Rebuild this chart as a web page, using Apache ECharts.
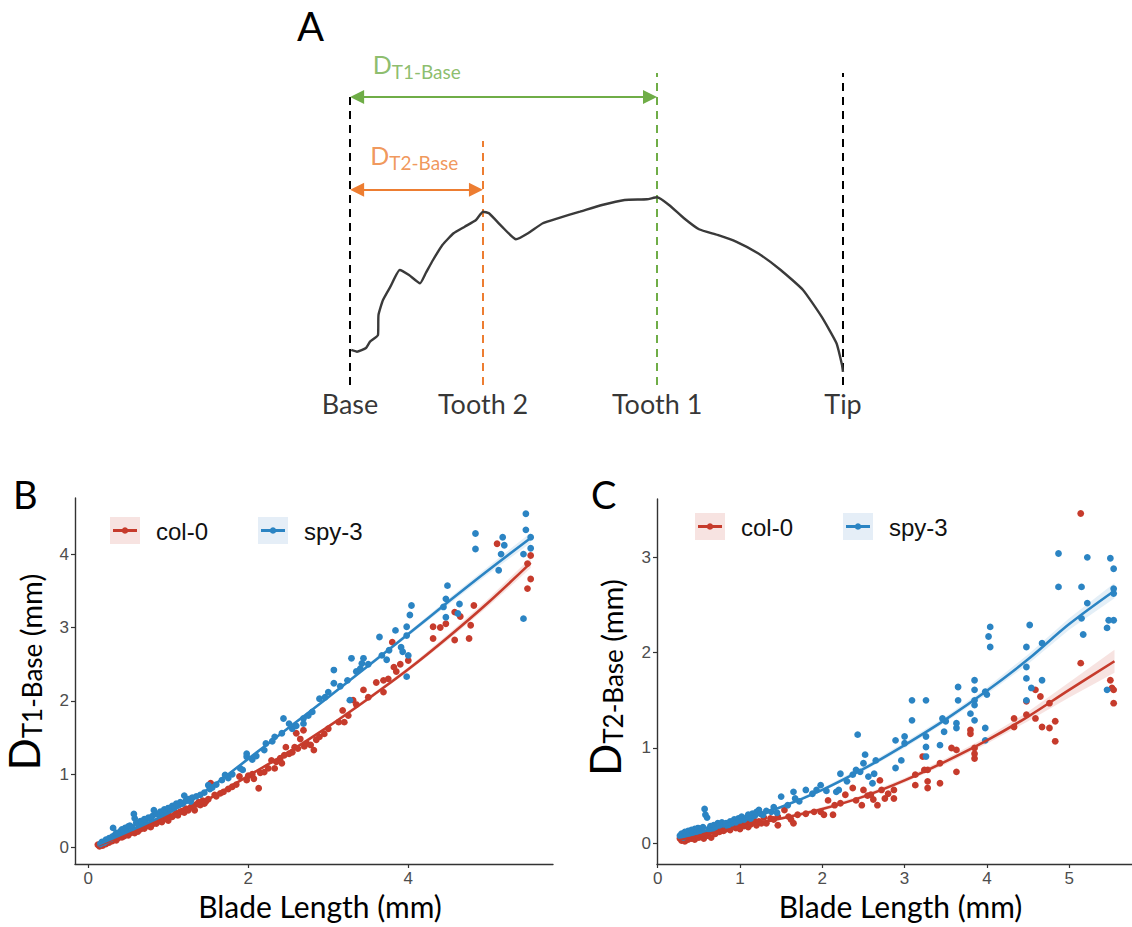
<!DOCTYPE html>
<html><head><meta charset="utf-8">
<script src="https://cdn.jsdelivr.net/npm/echarts@6/dist/echarts.min.js"></script>
<style>html,body{margin:0;padding:0;background:#fff}#c{width:1132px;height:927px}</style>
</head><body><div id="c"></div>
<script>
// ---------------- DATA ----------------
// Panel A: schematic leaf outline (x: % of blade from base to tip, y: height in same units)
const leafX = [0.26,1.42,3.25,4.06,5.68,5.78,6.69,8.19,10.08,11.97,14.20,15.35,16.84,18.74,21.01,23.27,25.56,26.98,28.19,30.83,33.67,36.11,39.11,42.13,46.65,51.12,55.70,60.24,62.3,64.71,67.75,70.79,74.54,78.30,82.76,87.36,91.89,95.66,98.68,99.8,100];
const leafY = [7.10,6.75,7.51,8.78,10.14,14.20,17.24,19.94,23.33,22.31,20.63,22.66,25.35,28.40,30.77,32.11,33.47,35.15,34.83,32.11,29.55,30.77,32.80,33.81,35.15,36.51,37.53,37.67,38.07,36.51,33.81,31.58,30.43,29.07,26.71,23.33,19.27,13.85,8.46,4.06,2.64];
const markNames = ['Base','Tooth 2','Tooth 1','Tip'];
const markX = [0, 27, 62.3, 100];
const markTop = [58.4, 49.5, 63.3, 63.3];
const arrowT1 = {from: 0, to: 62.3, level: 58.4, label: 'T1-Base', labelX: 4.5, labelY: 64.6};
const arrowT2 = {from: 0, to: 27, level: 39.6, label: 'T2-Base', labelX: 4.0, labelY: 46.2};

// Panel B: D_T1-Base vs blade length
const B_col0 = [[0.12,0.04],[0.14,0.02],[0.16,0.05],[0.18,0.03],[0.2,0.06],[0.22,0.05],[0.24,0.08],[0.26,0.07],[0.28,0.1],[0.3,0.09],[0.33,0.12],[0.35,0.1],[0.37,0.13],[0.4,0.15],[0.42,0.14],[0.45,0.16],[0.47,0.18],[0.5,0.17],[0.52,0.2],[0.55,0.21],[0.58,0.2],[0.6,0.24],[0.62,0.22],[0.65,0.25],[0.68,0.27],[0.7,0.26],[0.72,0.29],[0.75,0.3],[0.78,0.28],[0.8,0.32],[0.83,0.34],[0.85,0.33],[0.88,0.36],[0.9,0.38],[0.92,0.35],[0.95,0.39],[0.98,0.41],[1.0,0.37],[1.02,0.43],[1.05,0.42],[1.08,0.45],[1.1,0.47],[1.12,0.44],[1.15,0.49],[1.18,0.5],[1.2,0.48],[1.22,0.53],[1.25,0.51],[1.28,0.55],[1.29,0.67],[1.3,0.57],[1.33,0.51],[1.35,0.59],[1.38,0.62],[1.4,0.58],[1.43,0.64],[1.45,0.6],[1.47,0.63],[1.5,0.66],[1.53,0.88],[1.58,0.72],[1.6,0.7],[1.65,0.74],[1.69,0.76],[1.75,0.8],[1.8,0.83],[1.85,0.86],[1.89,0.97],[1.98,0.92],[2.0,0.98],[2.05,1.0],[2.07,0.94],[2.13,0.81],[2.15,1.02],[2.2,1.03],[2.25,1.08],[2.29,1.19],[2.33,1.08],[2.35,1.17],[2.4,1.22],[2.42,1.15],[2.45,1.26],[2.47,1.37],[2.51,1.28],[2.55,1.3],[2.58,1.37],[2.6,1.56],[2.62,1.35],[2.65,1.48],[2.69,1.6],[2.7,1.38],[2.73,1.42],[2.78,1.4],[2.82,1.33],[2.85,1.47],[2.89,1.51],[2.95,1.55],[3.0,1.62],[3.13,1.71],[3.18,1.87],[3.2,1.71],[3.25,1.8],[3.31,2.01],[3.35,1.95],[3.44,2.15],[3.5,2.05],[3.6,2.25],[3.69,2.28],[3.69,2.12],[3.75,2.3],[3.8,2.8],[3.82,2.46],[3.85,2.4],[3.9,2.5],[4.0,2.55],[4.31,2.85],[4.31,3.01],[4.4,3.0],[4.47,3.05],[4.58,2.83],[4.58,3.21],[4.65,3.15],[4.76,2.85],[4.78,3.03],[4.82,3.3],[5.11,4.14],[5.49,3.53],[5.53,3.66],[5.49,3.87],[5.53,3.98]];
const B_spy3 = [[0.15,0.05],[0.17,0.08],[0.2,0.07],[0.22,0.11],[0.24,0.1],[0.26,0.13],[0.28,0.12],[0.3,0.15],[0.31,0.27],[0.33,0.17],[0.35,0.2],[0.37,0.18],[0.4,0.22],[0.42,0.25],[0.44,0.23],[0.46,0.27],[0.48,0.26],[0.5,0.29],[0.52,0.3],[0.55,0.28],[0.57,0.46],[0.58,0.4],[0.6,0.34],[0.62,0.32],[0.65,0.36],[0.67,0.35],[0.7,0.39],[0.72,0.38],[0.75,0.41],[0.78,0.4],[0.8,0.43],[0.82,0.51],[0.85,0.46],[0.88,0.45],[0.9,0.49],[0.93,0.48],[0.95,0.52],[0.98,0.5],[1.0,0.54],[1.03,0.52],[1.05,0.57],[1.08,0.55],[1.1,0.6],[1.13,0.58],[1.15,0.62],[1.18,0.6],[1.2,0.71],[1.22,0.64],[1.25,0.66],[1.28,0.63],[1.3,0.68],[1.35,0.7],[1.4,0.72],[1.45,0.75],[1.5,0.85],[1.52,0.8],[1.55,0.82],[1.6,0.86],[1.67,0.92],[1.71,0.99],[1.75,0.95],[1.8,1.0],[1.9,1.08],[1.93,1.06],[1.98,1.24],[1.98,1.28],[2.05,1.2],[2.1,1.25],[2.2,1.33],[2.22,1.42],[2.3,1.45],[2.33,1.51],[2.42,1.56],[2.44,1.76],[2.51,1.69],[2.55,1.62],[2.6,1.66],[2.69,1.69],[2.69,1.76],[2.75,1.8],[2.8,1.85],[2.89,2.03],[2.96,2.05],[3.0,2.12],[3.07,2.24],[3.07,2.42],[3.15,2.2],[3.24,2.28],[3.27,2.01],[3.29,2.58],[3.35,2.4],[3.4,2.44],[3.42,2.51],[3.44,2.58],[3.5,2.5],[3.64,2.87],[3.67,2.62],[3.73,2.56],[3.76,2.69],[3.84,2.96],[3.91,2.73],[3.93,2.67],[3.98,3.01],[3.98,2.89],[4.0,2.62],[3.98,2.33],[4.02,3.17],[4.04,3.3],[4.44,3.28],[4.47,3.14],[4.47,3.39],[4.49,3.57],[4.62,3.19],[4.64,3.32],[4.84,4.07],[4.84,4.28],[5.13,3.78],[5.16,4.0],[5.2,4.12],[5.18,4.23],[5.44,3.12],[5.44,4.0],[5.53,4.08],[5.53,4.23],[5.47,4.33],[5.47,4.55]];
const B_fitX = [0.12,0.5,1,1.5,2,2.5,3,3.5,4,4.5,5,5.53];
const B_fitCol0 = [0.03,0.19,0.40,0.66,0.98,1.30,1.65,2.03,2.43,2.87,3.34,3.88];
const B_fitSpy3 = [0.04,0.22,0.47,0.80,1.21,1.63,2.05,2.48,2.91,3.35,3.78,4.22];
const B_seCol0 = [0.02,0.01,0.01,0.01,0.015,0.02,0.02,0.025,0.03,0.04,0.05,0.07];
const B_seSpy3 = [0.02,0.01,0.01,0.01,0.015,0.02,0.02,0.025,0.03,0.04,0.05,0.07];
const B_xTicks = [0,2,4];
const B_yTicks = [0,1,2,3,4];

// Panel C: D_T2-Base vs blade length
const C_col0 = [[0.27,0.05],[0.29,0.03],[0.31,0.06],[0.33,0.02],[0.35,0.07],[0.37,0.04],[0.39,0.08],[0.41,0.05],[0.43,0.09],[0.45,0.04],[0.47,0.08],[0.5,0.06],[0.52,0.1],[0.54,0.07],[0.56,0.05],[0.58,0.11],[0.6,0.08],[0.63,0.12],[0.65,0.06],[0.68,0.13],[0.7,0.1],[0.72,0.14],[0.75,0.12],[0.78,0.16],[0.8,0.13],[0.83,0.15],[0.85,0.18],[0.88,0.14],[0.9,0.17],[0.93,0.2],[0.95,0.16],[0.98,0.19],[1.0,0.15],[1.03,0.21],[1.05,0.18],[1.08,0.22],[1.1,0.17],[1.13,0.2],[1.17,0.24],[1.2,0.19],[1.23,0.23],[1.26,0.21],[1.29,0.27],[1.32,0.21],[1.37,0.26],[1.41,0.25],[1.46,0.28],[1.46,0.19],[1.54,0.35],[1.59,0.28],[1.62,0.25],[1.65,0.21],[1.7,0.3],[1.8,0.31],[1.9,0.33],[1.98,0.33],[2.02,0.3],[2.07,0.45],[2.13,0.3],[2.15,0.4],[2.22,0.42],[2.28,0.51],[2.37,0.58],[2.41,0.45],[2.48,0.4],[2.5,0.56],[2.55,0.5],[2.59,0.51],[2.62,0.46],[2.67,0.4],[2.7,0.66],[2.72,0.56],[2.76,0.47],[2.8,0.52],[2.87,0.47],[2.87,0.56],[3.13,0.61],[3.13,0.72],[3.22,0.91],[3.24,0.77],[3.28,0.58],[3.28,0.65],[3.28,0.77],[3.43,0.63],[3.43,0.84],[3.57,1.0],[3.63,0.98],[3.63,0.75],[3.8,1.19],[3.8,1.15],[3.85,0.89],[3.85,0.94],[3.85,1.0],[4.33,1.22],[4.33,1.31],[4.48,1.35],[4.48,1.49],[4.59,1.31],[4.59,1.61],[4.65,1.54],[4.67,1.22],[4.76,1.21],[4.76,1.47],[4.83,1.07],[4.83,1.28],[5.14,1.89],[5.14,3.46],[5.5,1.71],[5.52,1.63],[5.54,1.61],[5.54,1.47]];
const C_spy3 = [[0.27,0.08],[0.29,0.1],[0.31,0.06],[0.33,0.12],[0.35,0.09],[0.37,0.13],[0.39,0.1],[0.41,0.14],[0.43,0.11],[0.45,0.15],[0.47,0.12],[0.49,0.16],[0.51,0.13],[0.53,0.15],[0.55,0.17],[0.57,0.36],[0.58,0.3],[0.6,0.27],[0.62,0.15],[0.64,0.18],[0.66,0.14],[0.68,0.19],[0.7,0.17],[0.73,0.21],[0.75,0.19],[0.78,0.22],[0.8,0.2],[0.83,0.21],[0.85,0.18],[0.88,0.23],[0.9,0.21],[0.93,0.25],[0.95,0.22],[0.98,0.26],[1.0,0.24],[1.02,0.28],[1.05,0.25],[1.08,0.27],[1.1,0.3],[1.13,0.26],[1.15,0.31],[1.18,0.29],[1.2,0.33],[1.23,0.35],[1.25,0.31],[1.28,0.3],[1.32,0.34],[1.38,0.33],[1.41,0.38],[1.45,0.32],[1.5,0.49],[1.58,0.4],[1.65,0.54],[1.67,0.47],[1.72,0.44],[1.8,0.56],[1.88,0.52],[1.93,0.56],[1.98,0.61],[2.05,0.55],[2.17,0.54],[2.2,0.56],[2.22,0.73],[2.3,0.65],[2.37,0.72],[2.41,0.77],[2.43,1.14],[2.46,0.75],[2.5,0.84],[2.52,0.93],[2.56,0.7],[2.61,0.63],[2.63,0.73],[2.65,0.87],[2.89,0.79],[2.89,1.08],[2.96,0.87],[3.0,1.05],[3.0,1.12],[3.09,1.29],[3.09,1.5],[3.26,0.91],[3.26,1.01],[3.26,1.12],[3.26,1.5],[3.43,1.03],[3.46,1.31],[3.48,1.17],[3.5,1.28],[3.63,1.21],[3.63,1.26],[3.65,1.5],[3.65,1.64],[3.8,1.36],[3.85,1.29],[3.85,1.45],[3.85,1.5],[3.85,1.61],[3.85,1.71],[3.98,1.08],[3.98,1.21],[3.98,1.59],[4.0,1.56],[4.02,2.17],[4.04,2.06],[4.04,2.27],[4.48,1.5],[4.48,1.73],[4.48,1.85],[4.48,2.06],[4.52,2.29],[4.54,1.63],[4.67,1.71],[4.67,2.1],[4.87,2.69],[4.87,3.04],[5.15,2.36],[5.15,2.69],[5.17,2.19],[5.22,2.52],[5.22,3.0],[5.46,1.61],[5.46,2.26],[5.48,2.34],[5.5,2.99],[5.54,2.34],[5.54,2.62],[5.54,2.67],[5.54,2.88]];
const C_fitX = [0.27,0.5,1,1.5,2,2.5,3,3.5,4,4.5,5,5.55];
const C_fitCol0 = [0.04,0.08,0.17,0.26,0.36,0.49,0.66,0.86,1.08,1.33,1.61,1.91];
const C_fitSpy3 = [0.06,0.11,0.24,0.38,0.56,0.78,1.03,1.30,1.60,1.93,2.30,2.65];
const C_seCol0 = [0.03,0.02,0.015,0.015,0.02,0.02,0.025,0.03,0.035,0.05,0.08,0.12];
const C_seSpy3 = [0.03,0.02,0.015,0.015,0.02,0.025,0.03,0.03,0.035,0.05,0.06,0.08];
const C_xTicks = [0,1,2,3,4,5];
const C_yTicks = [0,1,2,3];

const groups = ['col-0','spy-3'];

// ---------------- STYLE ----------------
const RED = '#C63B2C', BLUE = '#2B84C3';
const RED_T = 'rgba(198,59,44,0.14)', BLUE_T = 'rgba(43,132,195,0.13)';
const LEG_RED = '#F7E3E1', LEG_BLUE = '#E5EEF7';
const GREEN = '#6FAD47', ORANGE = '#ED7D31';
const markColors = ['#000', ORANGE, GREEN, '#000'];
const AX = '#333333', TICKLAB = '#4d4d4d';
const TITLE_FONT = 'Lato';

function valueAxis(grid, min, max, ticks, extra) {
  return Object.assign({
    type: 'value', gridIndex: grid, min: min, max: max,
    splitLine: {show: false},
    axisLine: {show: true, onZero: false, lineStyle: {color: AX, width: 1.4}},
    axisTick: {show: true, length: 4, lineStyle: {color: AX, width: 1.2}, customValues: ticks},
    axisLabel: {show: true, customValues: ticks, color: TICKLAB, fontSize: 17, lineHeight: 17, fontFamily: 'Liberation Sans', margin: 6}
  }, extra || {});
}
function pairs(xs, ys) { return xs.map((x, i) => [x, ys[i]]); }
function band(idx, xs, ys, se, color) {
  return {
    type: 'custom', xAxisIndex: idx, yAxisIndex: idx, data: [[xs[0], ys[0]]], silent: true, z: 1,
    renderItem: function (params, api) {
      const pts = [];
      for (let i = 0; i < xs.length; i++) pts.push(api.coord([xs[i], ys[i] + se[i]]));
      for (let i = xs.length - 1; i >= 0; i--) pts.push(api.coord([xs[i], ys[i] - se[i]]));
      return {type: 'polygon', shape: {points: pts}, style: {fill: color}};
    }
  };
}
function scatter(idx, name, data, color) {
  return {type: 'scatter', name: name, xAxisIndex: idx, yAxisIndex: idx, data: data, symbolSize: 6.8,
    itemStyle: {color: color, opacity: 1}, z: 2, silent: true};
}
function fit(idx, name, xs, ys, color) {
  return {type: 'line', name: name + ' fit', xAxisIndex: idx, yAxisIndex: idx, data: pairs(xs, ys), smooth: 0.35,
    showSymbol: false, symbol: 'none', lineStyle: {color: color, width: 2.6}, z: 3, silent: true};
}
const subRich = (big, sub, mm) => ({
  d: {fontSize: big, fontFamily: TITLE_FONT, color: '#000', lineHeight: big * 1.05, verticalAlign: 'bottom'},
  s: {fontSize: sub, fontFamily: TITLE_FONT, color: '#000', lineHeight: sub * 1.0, verticalAlign: 'bottom'},
  m: {fontSize: mm, fontFamily: TITLE_FONT, color: '#000', lineHeight: mm * 1.05, verticalAlign: 'bottom'}
});
const xName = {fontSize: 30, lineHeight: 30, fontFamily: TITLE_FONT, color: '#000', padding: [0, 0, 0, 12]};

// Panel A scale: 4.93 px per unit
const option = {
  animation: false,
  backgroundColor: '#fff',
  grid: [
    {left: 300.7, top: 10.3, width: 591.6, height: 414.1},
    {left: 75, top: 498, width: 478, height: 366},
    {left: 657, top: 499, width: 475, height: 365}
  ],
  xAxis: [
    {type: 'value', gridIndex: 0, min: -10, max: 110, show: false},
    valueAxis(1, -0.166, 5.809, B_xTicks, {name: 'Blade Length (mm)', nameLocation: 'middle', nameGap: 27, nameTextStyle: xName}),
    valueAxis(2, -0.0085, 5.763, C_xTicks, {name: 'Blade Length (mm)', nameLocation: 'middle', nameGap: 27, nameTextStyle: xName})
  ],
  yAxis: [
    {type: 'value', gridIndex: 0, min: -8, max: 76, show: false},
    valueAxis(1, -0.222, 4.764, B_yTicks, {name: '{d|D}{s|T1-Base}{m| (mm)}', nameLocation: 'middle', nameGap: 30, nameRotate: 90,
      nameTextStyle: {rich: subRich(42, 26, 29), padding: [0, 0, 0, 18]}}),
    valueAxis(2, -0.217, 3.612, C_yTicks, {name: '{d|D}{s|T2-Base}{m| (mm)}', nameLocation: 'middle', nameGap: 31, nameRotate: 90,
      nameTextStyle: {rich: subRich(42, 26, 29), padding: [0, 0, 0, 8]}})
  ],
  series: [
    // Panel A
    {type: 'line', xAxisIndex: 0, yAxisIndex: 0, data: pairs(leafX, leafY), showSymbol: false, symbol: 'none',
      smooth: 0.15, lineStyle: {color: '#3a3a3a', width: 2.4}, silent: true, z: 3},
    {type: 'lines', coordinateSystem: 'cartesian2d', xAxisIndex: 0, yAxisIndex: 0, silent: true, z: 2,
      symbol: 'none', lineStyle: {type: [8, 6], width: 2, opacity: 1},
      data: markX.map((u, i) => ({coords: [[u, 0], [u, markTop[i]]], lineStyle: {color: markColors[i]}}))},
    {type: 'lines', coordinateSystem: 'cartesian2d', xAxisIndex: 0, yAxisIndex: 0, silent: true, z: 4,
      symbol: ['triangle', 'triangle'], symbolSize: 14, lineStyle: {width: 2, opacity: 1, type: 'solid'},
      data: [arrowT1, arrowT2].map((a, i) => ({
        coords: [[a.from + 1.45, a.level], [a.to - 1.45, a.level]],
        lineStyle: {color: i === 0 ? GREEN : ORANGE},
        itemStyle: {color: i === 0 ? GREEN : ORANGE}
      }))},
    {type: 'scatter', xAxisIndex: 0, yAxisIndex: 0, silent: true, symbolSize: 1, itemStyle: {color: 'rgba(0,0,0,0)'},
      data: markNames.map((n, i) => ({value: [markX[i], -3.7], name: n})),
      label: {show: true, position: 'inside', formatter: '{b}', fontSize: 27, fontFamily: TITLE_FONT, color: '#000'}},
    {type: 'scatter', xAxisIndex: 0, yAxisIndex: 0, silent: true, symbolSize: 1, itemStyle: {color: 'rgba(0,0,0,0)'},
      data: [arrowT1, arrowT2].map((a, i) => ({value: [a.labelX, a.labelY], name: a.label,
        label: {color: i === 0 ? GREEN : ORANGE,
          rich: {
            d: {fontSize: 25, fontFamily: TITLE_FONT, color: i === 0 ? GREEN : ORANGE, lineHeight: 30, verticalAlign: 'top'},
            s: {fontSize: 19, fontFamily: TITLE_FONT, color: i === 0 ? GREEN : ORANGE, lineHeight: 18, verticalAlign: 'bottom'}
          }}})),
      label: {show: true, position: 'right', distance: 0, formatter: p => '{d|D}{s|' + p.name + '}'}},
    // Panel B
    band(1, B_fitX, B_fitCol0, B_seCol0, RED_T),
    band(1, B_fitX, B_fitSpy3, B_seSpy3, BLUE_T),
    scatter(1, groups[0], B_col0, RED),
    scatter(1, groups[1], B_spy3, BLUE),
    fit(1, groups[0], B_fitX, B_fitCol0, RED),
    fit(1, groups[1], B_fitX, B_fitSpy3, BLUE),
    // Panel C
    band(2, C_fitX, C_fitCol0, C_seCol0, RED_T),
    band(2, C_fitX, C_fitSpy3, C_seSpy3, BLUE_T),
    scatter(2, groups[0], C_col0, RED),
    scatter(2, groups[1], C_spy3, BLUE),
    fit(2, groups[0], C_fitX, C_fitCol0, RED),
    fit(2, groups[1], C_fitX, C_fitSpy3, BLUE)
  ],
  graphic: []
};

// Panel letters
[['A', 297, 26, 40], ['B', 13, 494, 38], ['C', 591, 494, 38]].forEach(l => {
  option.graphic.push({type: 'text', x: l[1], y: l[2], silent: true,
    style: {text: l[0], font: l[3] + 'px ' + TITLE_FONT, fill: '#000', textAlign: 'left', textVerticalAlign: 'middle'}});
});
// Legends
function legendKey(x, y, name, color, tint) {
  option.graphic.push({type: 'rect', silent: true, shape: {x: x, y: y, width: 30, height: 27}, style: {fill: tint}});
  option.graphic.push({type: 'line', silent: true, shape: {x1: x + 3, y1: y + 13.5, x2: x + 27, y2: y + 13.5}, style: {stroke: color, lineWidth: 3}});
  option.graphic.push({type: 'circle', silent: true, shape: {cx: x + 15, cy: y + 13.5, r: 3.3}, style: {fill: color}});
  option.graphic.push({type: 'text', silent: true, x: x + 46, y: y + 14,
    style: {text: name, font: '24px "Liberation Sans"', fill: '#111', textAlign: 'left', textVerticalAlign: 'middle'}});
}
legendKey(110, 517, groups[0], RED, LEG_RED);
legendKey(258, 517, groups[1], BLUE, LEG_BLUE);
legendKey(695, 513, groups[0], RED, LEG_RED);
legendKey(843, 513, groups[1], BLUE, LEG_BLUE);

const chart = echarts.init(document.getElementById('c'), null, {renderer: 'svg'});
chart.setOption(option);
</script>
</body></html>
